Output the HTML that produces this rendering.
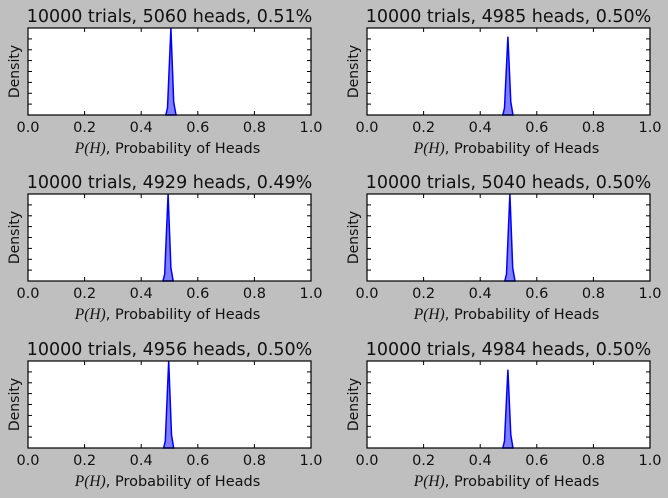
<!DOCTYPE html>
<html><head><meta charset="utf-8"><style>
body{margin:0;background:#bfbfbf;}
svg{display:block;font-family:"DejaVu Sans","Liberation Sans",sans-serif;}
</style></head><body>
<svg id="s" width="668" height="498" xmlns="http://www.w3.org/2000/svg"></svg>
<script>
const plots=[
 [28,28,"5060",0.51,0.505,1.0],
 [367,28,"4985",0.50,0.498,0.9],
 [28,194,"4929",0.49,0.495,1.0],
 [367,194,"5040",0.50,0.505,1.0],
 [28,361,"4956",0.50,0.497,1.0],
 [367,361,"4984",0.50,0.498,0.9]];
let h='';
const W=283,H=87;
for(const [x0,y0,n,pc,c,pk] of plots){
 h+=`<rect x="${x0}" y="${y0}" width="${W}" height="${H}" fill="#fff"/>`;
 const X=p=>(x0+p*W).toFixed(1), Y=f=>(y0+H-f*H).toFixed(1);
 const pts=[[c-0.018,0],[c-0.012,0.08],[c,pk],[c+0.01,0.15],[c+0.018,0]];
 h+=`<polygon points="${pts.map(q=>X(q[0])+','+Y(q[1])).join(' ')}" fill="#7f7fff" stroke="#0000ff" stroke-width="1.5"/>`;
 for(let i=0;i<=5;i++){const x=X(i*0.2);
  h+=`<line x1="${x}" y1="${y0+H}" x2="${x}" y2="${y0+H-4}" stroke="#000"/><line x1="${x}" y1="${y0}" x2="${x}" y2="${y0+4}" stroke="#000"/>`;
  h+=`<text x="${x}" y="${y0+H+17}" font-size="14.5" text-anchor="middle" fill="#111">${(i*0.2).toFixed(1)}</text>`;}
 for(let j=1;j<8;j++){const y=(y0+H-j*H/8).toFixed(1);
  h+=`<line x1="${x0}" y1="${y}" x2="${x0+4}" y2="${y}" stroke="#000"/><line x1="${x0+W}" y1="${y}" x2="${x0+W-4}" y2="${y}" stroke="#000"/>`;}
 h+=`<rect x="${x0}" y="${y0}" width="${W}" height="${H}" fill="none" stroke="#000" stroke-width="1.2"/>`;
 h+=`<text x="${x0+W/2}" y="${y0-6}" font-size="17.5" text-anchor="middle" fill="#111">10000 trials, ${n} heads, ${pc.toFixed(2)}%</text>`;
 h+=`<text x="${x0+W/2-2}" y="${y0+H+38}" font-size="14.5" text-anchor="middle" fill="#111"><tspan font-family="Liberation Serif,serif" font-style="italic" font-size="15.5">P(H)</tspan>, Probability of Heads</text>`;
 h+=`<text transform="translate(${x0-9},${y0+H/2}) rotate(-90)" font-size="14" text-anchor="middle" fill="#111">Density</text>`;
}
document.getElementById('s').innerHTML=h;
</script>
</body></html>
